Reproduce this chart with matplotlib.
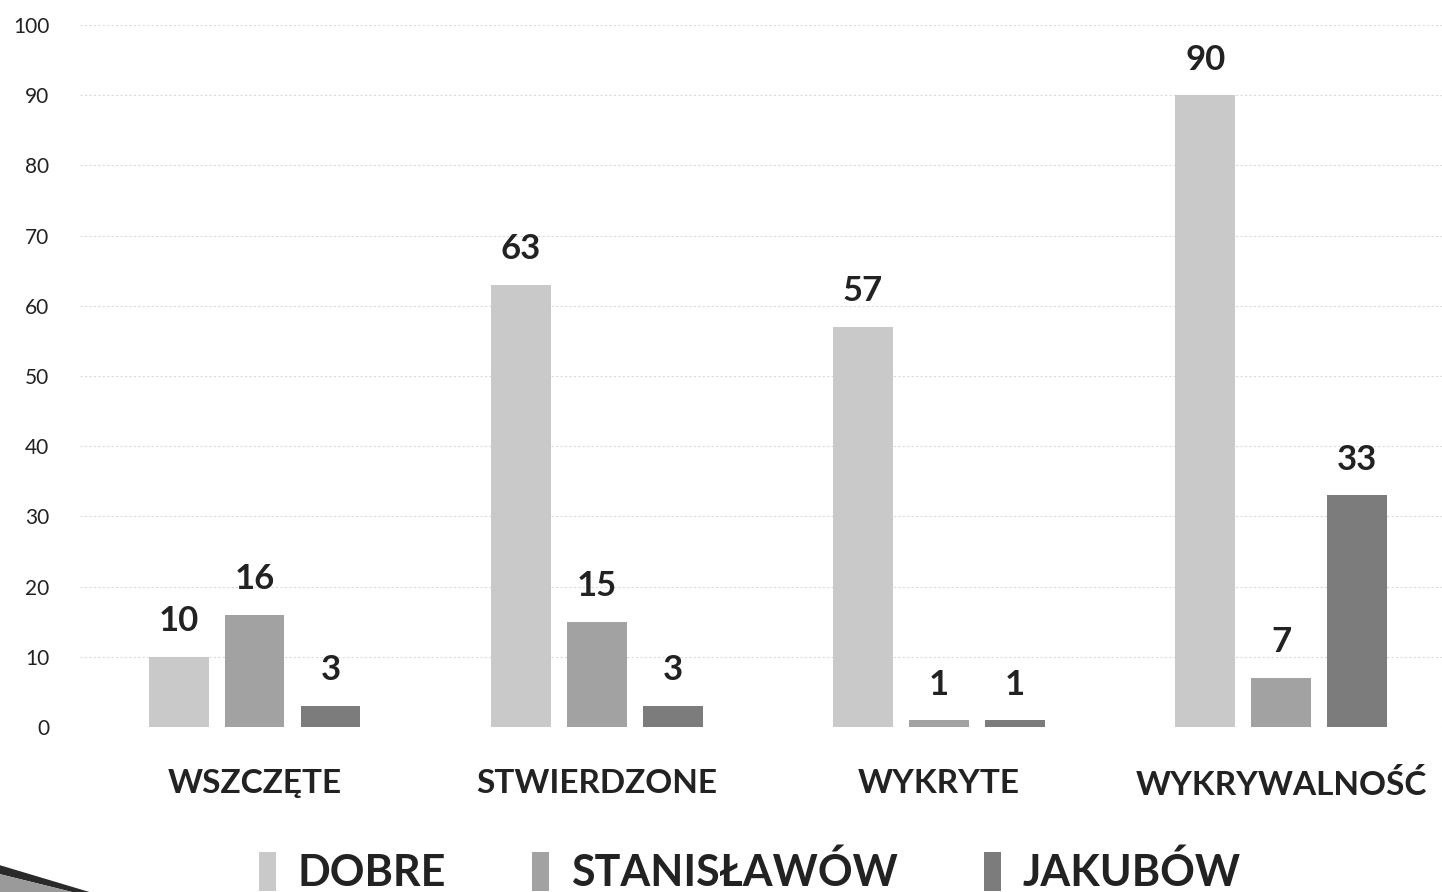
import matplotlib
matplotlib.use('Agg')
import matplotlib.pyplot as plt
from matplotlib.patches import Polygon
import numpy as np

# --- data ---
categories = ['WSZCZĘTE', 'STWIERDZONE', 'WYKRYTE', 'WYKRYWALNOŚĆ']
series_names = ['DOBRE', 'STANISŁAWÓW', 'JAKUBÓW']
dobre = [10, 63, 57, 90]
stanislawow = [16, 15, 1, 7]
jakubow = [3, 3, 1, 33]
y_ticks = [0, 10, 20, 30, 40, 50, 60, 70, 80, 90, 100]

colors = ['#c9c9c9', '#a2a2a2', '#7c7c7c']
text_color = '#222222'

plt.rcParams['font.family'] = ['Lato', 'DejaVu Sans']
plt.rcParams['font.weight'] = 'bold'

fig = plt.figure(figsize=(14.42, 8.92), dpi=100)
ax = fig.add_axes([0.0555, 0.185, 0.9445, 0.787])

x = np.arange(len(categories))
width = 0.175
offset = 0.222

for i, (vals, name, col) in enumerate(zip([dobre, stanislawow, jakubow], series_names, colors)):
    bars = ax.bar(x + (i - 1) * offset, vals, width, color=col, label=name, zorder=3)
    ax.bar_label(bars, labels=[str(v) for v in vals], padding=14,
                 fontsize=25, color=text_color, fontweight='bold')

ax.set_xlim(-0.51, 3.47)
ax.set_ylim(0, 100)
ax.set_yticks(y_ticks)
ax.set_yticklabels([str(t) for t in y_ticks], fontsize=15, color=text_color,
                   fontweight='normal')
ax.set_xticks(x)
ax.set_xticklabels(categories, fontsize=24, color=text_color)
ax.tick_params(axis='both', length=0)
ax.tick_params(axis='y', pad=22)
ax.tick_params(axis='x', pad=30)

ax.grid(axis='y', color='#dadada', linestyle=(0, (2, 2)), linewidth=0.8, zorder=0)
for s in ax.spines.values():
    s.set_visible(False)

leg = fig.legend(loc='lower center', bbox_to_anchor=(0.52, -0.045), ncol=3,
                 frameon=False, fontsize=31, handlelength=0.4, handleheight=1.0,
                 handletextpad=0.5, columnspacing=2.0)
for t in leg.get_texts():
    t.set_color(text_color)

# dark paper edge from the scan in the lower-left corner
fig.patches.append(Polygon([(0, 0.030), (0.0, 0.020), (0.05, 0.0), (0.062, 0.0)],
                           closed=True, transform=fig.transFigure,
                           facecolor='#2a2a2a', edgecolor='none'))
fig.patches.append(Polygon([(0, 0.020), (0.05, 0.0), (0, 0.0)],
                           closed=True, transform=fig.transFigure,
                           facecolor='#9a9a9a', edgecolor='none'))

fig.savefig('out.png', dpi=100, facecolor='white')
